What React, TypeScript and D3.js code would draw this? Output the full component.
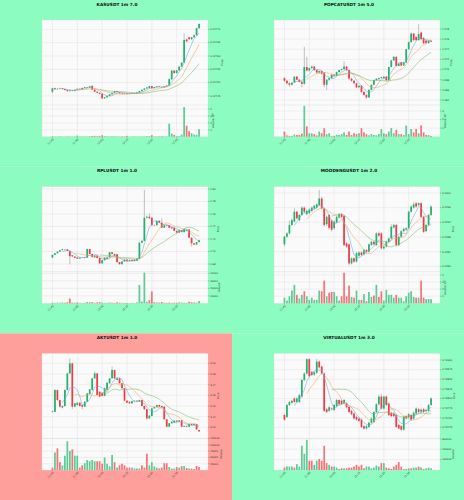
import React from "react";
import * as d3 from "d3";

// ---------- DATA: [open, high, low, close, volume] per 1m candle ----------
const kasCandles: number[][] = [
  [0.127466,0.127481,0.127460,0.127479,50000],[0.127479,0.127481,0.127473,0.127475,30000],[0.127475,0.127479,0.127473,0.127477,40000],[0.127477,0.127481,0.127475,0.127479,60000],[0.127479,0.127480,0.127474,0.127476,30000],
  [0.127476,0.127477,0.127470,0.127472,20000],[0.127472,0.127474,0.127466,0.127468,50000],[0.127468,0.127472,0.127466,0.127471,40000],[0.127471,0.127472,0.127467,0.127469,30000],[0.127469,0.127474,0.127468,0.127473,50000],
  [0.127473,0.127478,0.127472,0.127477,150000],[0.127477,0.127478,0.127473,0.127475,40000],[0.127475,0.127481,0.127474,0.127480,50000],[0.127480,0.127484,0.127479,0.127483,60000],[0.127483,0.127484,0.127479,0.127481,30000],
  [0.127481,0.127488,0.127480,0.127486,80000],[0.127488,0.127490,0.127472,0.127474,100000],[0.127474,0.127475,0.127464,0.127466,120000],[0.127466,0.127467,0.127460,0.127462,80000],[0.127462,0.127463,0.127456,0.127458,120000],
  [0.127458,0.127459,0.127438,0.127441,200000],[0.127441,0.127446,0.127439,0.127445,100000],[0.127445,0.127451,0.127444,0.127450,60000],[0.127450,0.127457,0.127449,0.127456,50000],[0.127456,0.127463,0.127455,0.127462,80000],
  [0.127462,0.127469,0.127461,0.127468,60000],[0.127468,0.127469,0.127463,0.127464,50000],[0.127464,0.127465,0.127459,0.127460,40000],[0.127460,0.127461,0.127457,0.127458,60000],[0.127458,0.127461,0.127457,0.127460,50000],
  [0.127460,0.127461,0.127456,0.127457,120000],[0.127457,0.127460,0.127456,0.127459,30000],[0.127459,0.127462,0.127458,0.127461,40000],[0.127461,0.127462,0.127458,0.127459,50000],[0.127459,0.127464,0.127458,0.127463,30000],
  [0.127463,0.127469,0.127462,0.127468,40000],[0.127468,0.127474,0.127467,0.127473,50000],[0.127473,0.127479,0.127472,0.127478,60000],[0.127478,0.127483,0.127477,0.127482,80000],[0.127480,0.127488,0.127479,0.127487,100000],
  [0.127487,0.127488,0.127478,0.127479,220000],[0.127479,0.127484,0.127478,0.127483,50000],[0.127483,0.127487,0.127482,0.127486,40000],[0.127486,0.127487,0.127483,0.127484,60000],[0.127484,0.127485,0.127481,0.127482,80000],
  [0.127482,0.127487,0.127481,0.127486,50000],[0.127486,0.127490,0.127485,0.127489,60000],[0.127489,0.127516,0.127488,0.127513,1900000],[0.127513,0.127548,0.127510,0.127545,450000],[0.127545,0.127547,0.127533,0.127536,250000],
  [0.127536,0.127547,0.127534,0.127546,50000],[0.127546,0.127561,0.127545,0.127560,100000],[0.127560,0.127577,0.127559,0.127575,300000],[0.127575,0.127685,0.127573,0.127660,4300000],[0.127662,0.127665,0.127650,0.127655,1600000],
  [0.127670,0.127673,0.127660,0.127663,800000],[0.127663,0.127671,0.127660,0.127670,500000],[0.127670,0.127680,0.127668,0.127678,300000],[0.127678,0.127706,0.127676,0.127704,300000],[0.127704,0.127723,0.127702,0.127720,1100000],
];

const popcatCandles: number[][] = [
  [1.2683,1.2685,1.2675,1.2678,60000],[1.2678,1.2679,1.2670,1.2673,15000],[1.2673,1.2675,1.2666,1.2670,10000],[1.2670,1.2675,1.2668,1.2674,10000],[1.2674,1.2687,1.2673,1.2686,25000],
  [1.2686,1.2687,1.2679,1.2680,20000],[1.2680,1.2681,1.2674,1.2676,20000],[1.2676,1.2677,1.2665,1.2672,35000],[1.2672,1.2745,1.2670,1.2705,360000],[1.2705,1.2725,1.2696,1.2698,120000],
  [1.2698,1.2704,1.2696,1.2703,40000],[1.2703,1.2708,1.2701,1.2706,40000],[1.2706,1.2707,1.2697,1.2699,30000],[1.2699,1.2700,1.2692,1.2694,15000],[1.2694,1.2698,1.2692,1.2697,60000],
  [1.2697,1.2698,1.2690,1.2692,40000],[1.2694,1.2695,1.2665,1.2670,100000],[1.2670,1.2681,1.2660,1.2680,30000],[1.2680,1.2684,1.2678,1.2683,40000],[1.2683,1.2691,1.2682,1.2690,10000],
  [1.2690,1.2691,1.2686,1.2688,10000],[1.2688,1.2696,1.2687,1.2695,20000],[1.2695,1.2700,1.2694,1.2699,20000],[1.2699,1.2702,1.2698,1.2701,30000],[1.2701,1.2716,1.2700,1.2706,50000],
  [1.2706,1.2707,1.2697,1.2699,20000],[1.2699,1.2700,1.2680,1.2682,60000],[1.2682,1.2684,1.2676,1.2678,20000],[1.2678,1.2679,1.2671,1.2673,40000],[1.2673,1.2674,1.2663,1.2665,30000],
  [1.2665,1.2669,1.2663,1.2668,40000],[1.2668,1.2669,1.2654,1.2656,100000],[1.2656,1.2657,1.2648,1.2650,50000],[1.2650,1.2651,1.2642,1.2645,30000],[1.2645,1.2661,1.2644,1.2660,15000],
  [1.2660,1.2671,1.2659,1.2670,30000],[1.2670,1.2680,1.2669,1.2679,20000],[1.2679,1.2683,1.2678,1.2682,15000],[1.2681,1.2684,1.2680,1.2683,30000],[1.2683,1.2686,1.2682,1.2685,90000],
  [1.2683,1.2687,1.2682,1.2686,40000],[1.2686,1.2687,1.2677,1.2679,30000],[1.2679,1.2706,1.2678,1.2705,60000],[1.2705,1.2719,1.2704,1.2718,100000],[1.2718,1.2727,1.2717,1.2725,40000],
  [1.2725,1.2726,1.2705,1.2707,80000],[1.2707,1.2713,1.2706,1.2712,30000],[1.2714,1.2715,1.2706,1.2708,30000],[1.2708,1.2715,1.2707,1.2714,20000],[1.2714,1.2741,1.2713,1.2740,130000],
  [1.2740,1.2755,1.2739,1.2754,30000],[1.2754,1.2773,1.2753,1.2771,90000],[1.2771,1.2772,1.2756,1.2758,50000],[1.2764,1.2766,1.2756,1.2758,90000],[1.2758,1.2790,1.2757,1.2770,40000],
  [1.2773,1.2775,1.2758,1.2760,130000],[1.2762,1.2764,1.2750,1.2752,50000],[1.2757,1.2759,1.2750,1.2752,20000],[1.2752,1.2758,1.2751,1.2757,20000],[1.2757,1.2758,1.2754,1.2755,10000],
];

const rplCandles: number[][] = [
  [1.6902,1.6950,1.6895,1.6945,800],[1.6945,1.6975,1.6940,1.6971,600],[1.6971,1.7002,1.6968,1.6998,900],[1.6998,1.7024,1.6995,1.7020,700],[1.7020,1.7045,1.7018,1.7035,1200],
  [1.7035,1.7040,1.7028,1.7030,800],[1.7035,1.7040,1.7005,1.7010,1500],[1.7010,1.7012,1.6795,1.6925,6500],[1.6940,1.6945,1.6915,1.6920,1000],[1.6920,1.6925,1.6895,1.6900,800],
  [1.6905,1.6908,1.6880,1.6885,1200],[1.6885,1.6903,1.6882,1.6900,600],[1.6900,1.6908,1.6897,1.6905,500],[1.6910,1.6912,1.6897,1.6900,700],[1.6900,1.7045,1.6898,1.7040,1800],
  [1.7040,1.7042,1.6955,1.6960,1400],[1.6960,1.6962,1.6905,1.6910,1600],[1.6905,1.6940,1.6902,1.6935,900],[1.6935,1.6937,1.6890,1.6895,1300],[1.6895,1.6897,1.6800,1.6810,1700],
  [1.6810,1.6865,1.6805,1.6860,900],[1.6860,1.6905,1.6855,1.6900,700],[1.6880,1.6910,1.6878,1.6905,600],[1.6905,1.6992,1.6900,1.6987,1200],[1.6987,1.6990,1.6955,1.6960,800],
  [1.6960,1.6963,1.6930,1.6935,700],[1.6955,1.6958,1.6825,1.6830,1500],[1.6830,1.6833,1.6790,1.6795,900],[1.6795,1.6845,1.6792,1.6840,600],[1.6840,1.6875,1.6835,1.6870,700],
  [1.6870,1.6873,1.6845,1.6850,500],[1.6850,1.6870,1.6847,1.6865,400],[1.6865,1.6868,1.6840,1.6845,600],[1.6845,1.6875,1.6842,1.6870,500],[1.6850,1.6890,1.6848,1.6885,1300],
  [1.6885,1.7150,1.6880,1.7140,24500],[1.7140,1.7180,1.7135,1.7170,2500],[1.7170,1.7984,1.7165,1.7540,41000],[1.7540,1.7575,1.7530,1.7555,2000],[1.7555,1.7611,1.7525,1.7530,4200],
  [1.7540,1.7545,1.7415,1.7420,16000],[1.7420,1.7430,1.7405,1.7415,1500],[1.7420,1.7495,1.7415,1.7490,1200],[1.7490,1.7500,1.7455,1.7460,1000],[1.7460,1.7530,1.7375,1.7380,1800],
  [1.7380,1.7425,1.7375,1.7420,900],[1.7420,1.7425,1.7405,1.7410,700],[1.7420,1.7422,1.7375,1.7380,1100],[1.7390,1.7395,1.7365,1.7370,600],[1.7380,1.7385,1.7325,1.7330,900],
  [1.7330,1.7335,1.7295,1.7300,700],[1.7300,1.7345,1.7297,1.7340,1400],[1.7340,1.7345,1.7305,1.7310,1000],[1.7310,1.7365,1.7305,1.7360,800],[1.7330,1.7355,1.7325,1.7350,700],
  [1.7350,1.7355,1.7215,1.7220,2200],[1.7220,1.7225,1.7080,1.7130,1500],[1.7130,1.7135,1.7105,1.7110,1200],[1.7110,1.7155,1.7105,1.7150,1000],[1.7150,1.7185,1.7145,1.7180,3000],
];

const moodengCandles: number[][] = [
  [0.22860,0.22884,0.22855,0.22881,80000],[0.22881,0.22893,0.22878,0.22890,40000],[0.22890,0.22925,0.22887,0.22913,100000],[0.22913,0.22930,0.22910,0.22926,180000],[0.22922,0.22958,0.22920,0.22949,260000],
  [0.22949,0.22952,0.22928,0.22931,120000],[0.22926,0.22943,0.22922,0.22940,70000],[0.22940,0.22964,0.22937,0.22960,120000],[0.22960,0.22963,0.22945,0.22949,170000],[0.22942,0.22955,0.22939,0.22951,100000],
  [0.22945,0.22958,0.22942,0.22955,50000],[0.22951,0.22963,0.22948,0.22960,80000],[0.22958,0.22968,0.22955,0.22965,50000],[0.22960,0.22972,0.22957,0.22969,50000],[0.22967,0.23008,0.22964,0.22985,180000],
  [0.22985,0.22990,0.22955,0.22958,170000],[0.22958,0.22961,0.22908,0.22913,320000],[0.22915,0.22938,0.22910,0.22935,100000],[0.22940,0.22943,0.22900,0.22905,150000],[0.22925,0.22928,0.22895,0.22900,160000],
  [0.22904,0.22925,0.22900,0.22922,160000],[0.22920,0.22938,0.22917,0.22935,100000],[0.22933,0.22945,0.22930,0.22942,40000],[0.22942,0.22945,0.22932,0.22935,100000],[0.22938,0.22941,0.22855,0.22858,430000],
  [0.22863,0.22866,0.22851,0.22854,100000],[0.22860,0.22863,0.22803,0.22808,250000],[0.22808,0.22825,0.22805,0.22822,90000],[0.22822,0.22825,0.22810,0.22813,80000],[0.22813,0.22840,0.22810,0.22836,180000],
  [0.22829,0.22841,0.22826,0.22838,50000],[0.22838,0.22840,0.22828,0.22831,50000],[0.22833,0.22848,0.22830,0.22845,130000],[0.22845,0.22847,0.22837,0.22840,30000],[0.22840,0.22863,0.22837,0.22860,160000],
  [0.22858,0.22870,0.22855,0.22867,90000],[0.22867,0.22869,0.22857,0.22860,110000],[0.22858,0.22893,0.22855,0.22890,260000],[0.22890,0.22895,0.22881,0.22884,90000],[0.22890,0.22893,0.22846,0.22849,170000],
  [0.22849,0.22857,0.22846,0.22854,40000],[0.22854,0.22870,0.22851,0.22867,190000],[0.22867,0.22879,0.22864,0.22876,120000],[0.22876,0.22915,0.22873,0.22908,120000],[0.22906,0.22916,0.22903,0.22913,80000],
  [0.22913,0.22916,0.22855,0.22858,120000],[0.22858,0.22884,0.22855,0.22881,80000],[0.22881,0.22899,0.22878,0.22896,80000],[0.22896,0.22905,0.22893,0.22902,30000],[0.22900,0.22907,0.22897,0.22904,100000],
  [0.22904,0.22952,0.22901,0.22949,150000],[0.22949,0.22966,0.22946,0.22963,170000],[0.22960,0.22976,0.22957,0.22969,90000],[0.22972,0.22975,0.22960,0.22963,80000],[0.22967,0.22975,0.22964,0.22972,80000],
  [0.22972,0.22975,0.22932,0.22935,320000],[0.22935,0.22938,0.22891,0.22894,80000],[0.22896,0.22916,0.22893,0.22913,60000],[0.22913,0.22943,0.22910,0.22940,60000],[0.22940,0.22966,0.22937,0.22963,60000],
];

const aktCandles: number[][] = [
  [3.1450,3.1455,3.1440,3.1445,9700],[3.1445,3.1660,3.1440,3.1650,69600],[3.1650,3.1655,3.1550,3.1556,86200],[3.1556,3.1560,3.1485,3.1494,31400],[3.1485,3.1505,3.1478,3.1500,18600],
  [3.1500,3.1655,3.1495,3.1650,56900],[3.1650,3.1810,3.1645,3.1806,114300],[3.1806,3.1947,3.1800,3.1900,76000],[3.1900,3.1905,3.1470,3.1494,82400],[3.1494,3.1530,3.1488,3.1525,57000],
  [3.1509,3.1535,3.1505,3.1531,57000],[3.1531,3.1535,3.1495,3.1500,9700],[3.1509,3.1512,3.1470,3.1494,18600],[3.1494,3.1545,3.1490,3.1541,27000],[3.1541,3.1623,3.1538,3.1619,40000],
  [3.1613,3.1660,3.1610,3.1656,35000],[3.1650,3.1763,3.1645,3.1759,40000],[3.1759,3.1825,3.1755,3.1806,35000],[3.1806,3.1810,3.1598,3.1603,35000],[3.1634,3.1638,3.1584,3.1588,35000],
  [3.1625,3.1628,3.1590,3.1595,25000],[3.1595,3.1670,3.1590,3.1666,50000],[3.1650,3.1723,3.1646,3.1719,25000],[3.1713,3.1763,3.1710,3.1759,15000],[3.1759,3.1870,3.1755,3.1838,60000],
  [3.1838,3.1842,3.1755,3.1759,31000],[3.1744,3.1763,3.1740,3.1759,9700],[3.1759,3.1763,3.1709,3.1713,18600],[3.1713,3.1716,3.1662,3.1666,25000],[3.1666,3.1670,3.1546,3.1550,18600],
  [3.1550,3.1553,3.1527,3.1531,9700],[3.1540,3.1545,3.1520,3.1525,9700],[3.1525,3.1549,3.1522,3.1545,9700],[3.1545,3.1553,3.1542,3.1550,6000],[3.1550,3.1553,3.1540,3.1544,6000],
  [3.1544,3.1560,3.1540,3.1556,6000],[3.1556,3.1560,3.1495,3.1500,18600],[3.1500,3.1504,3.1465,3.1470,9700],[3.1470,3.1474,3.1370,3.1384,65000],[3.1384,3.1414,3.1380,3.1410,18600],
  [3.1406,3.1482,3.1402,3.1478,31000],[3.1478,3.1494,3.1474,3.1490,14000],[3.1490,3.1513,3.1486,3.1509,9700],[3.1509,3.1512,3.1490,3.1494,6000],[3.1500,3.1503,3.1484,3.1488,9700],
  [3.1494,3.1497,3.1370,3.1375,27000],[3.1375,3.1378,3.1300,3.1306,27000],[3.1306,3.1342,3.1302,3.1338,12000],[3.1338,3.1357,3.1334,3.1353,6000],[3.1344,3.1367,3.1340,3.1363,6000],
  [3.1363,3.1366,3.1349,3.1353,12000],[3.1353,3.1370,3.1349,3.1366,9700],[3.1366,3.1369,3.1302,3.1306,15000],[3.1306,3.1317,3.1302,3.1313,16000],[3.1313,3.1316,3.1302,3.1306,8000],
  [3.1306,3.1335,3.1302,3.1331,6000],[3.1331,3.1334,3.1318,3.1322,6000],[3.1322,3.1335,3.1318,3.1331,4000],[3.1331,3.1334,3.1277,3.1281,16000],[3.1275,3.1278,3.1258,3.1262,12000],
];

const virtualCandles: number[][] = [
  [0.73757,0.73760,0.73742,0.73745,47000],[0.73752,0.73786,0.73749,0.73783,67000],[0.73783,0.73794,0.73780,0.73791,67000],[0.73789,0.73797,0.73786,0.73794,67000],[0.73800,0.73803,0.73788,0.73791,47000],
  [0.73791,0.73803,0.73788,0.73800,113000],[0.73791,0.73812,0.73788,0.73809,67000],[0.73805,0.73851,0.73802,0.73848,467000],[0.73848,0.73868,0.73845,0.73865,313000],[0.73865,0.73905,0.73862,0.73902,580000],
  [0.73902,0.73905,0.73855,0.73858,180000],[0.73869,0.73872,0.73858,0.73861,180000],[0.73862,0.73871,0.73859,0.73868,100000],[0.73867,0.73903,0.73864,0.73896,180000],[0.73896,0.73899,0.73878,0.73881,213000],
  [0.73883,0.73886,0.73862,0.73865,180000],[0.73865,0.73868,0.73765,0.73768,467000],[0.73772,0.73775,0.73762,0.73765,133000],[0.73768,0.73780,0.73765,0.73777,100000],[0.73774,0.73777,0.73769,0.73772,67000],
  [0.73770,0.73786,0.73767,0.73783,67000],[0.73780,0.73799,0.73777,0.73796,47000],[0.73796,0.73799,0.73782,0.73785,20000],[0.73794,0.73797,0.73783,0.73786,33000],[0.73787,0.73799,0.73784,0.73796,33000],
  [0.73787,0.73790,0.73774,0.73777,33000],[0.73778,0.73781,0.73762,0.73765,47000],[0.73768,0.73771,0.73756,0.73759,47000],[0.73761,0.73764,0.73745,0.73748,67000],[0.73752,0.73755,0.73742,0.73745,100000],
  [0.73748,0.73751,0.73739,0.73742,67000],[0.73745,0.73748,0.73723,0.73726,100000],[0.73728,0.73731,0.73719,0.73722,33000],[0.73722,0.73731,0.73719,0.73728,67000],[0.73726,0.73740,0.73723,0.73737,67000],
  [0.73737,0.73751,0.73734,0.73748,33000],[0.73739,0.73768,0.73736,0.73765,47000],[0.73765,0.73788,0.73762,0.73785,87000],[0.73785,0.73810,0.73782,0.73805,67000],[0.73805,0.73812,0.73771,0.73774,133000],
  [0.73774,0.73808,0.73771,0.73805,133000],[0.73805,0.73808,0.73780,0.73783,47000],[0.73787,0.73790,0.73754,0.73757,33000],[0.73763,0.73766,0.73751,0.73754,20000],[0.73761,0.73764,0.73751,0.73754,67000],
  [0.73757,0.73760,0.73723,0.73726,100000],[0.73731,0.73734,0.73719,0.73722,153000],[0.73728,0.73731,0.73715,0.73719,67000],[0.73719,0.73755,0.73716,0.73752,20000],[0.73754,0.73757,0.73745,0.73748,20000],
  [0.73751,0.73762,0.73748,0.73759,33000],[0.73757,0.73760,0.73742,0.73745,33000],[0.73748,0.73766,0.73745,0.73763,47000],[0.73761,0.73777,0.73758,0.73774,47000],[0.73772,0.73775,0.73762,0.73765,67000],
  [0.73766,0.73774,0.73763,0.73771,47000],[0.73772,0.73775,0.73762,0.73765,20000],[0.73767,0.73773,0.73764,0.73770,33000],[0.73768,0.73786,0.73765,0.73783,47000],[0.73783,0.73803,0.73780,0.73800,33000],
];

const titles = ["KASUSDT 1m 7.0", "POPCATUSDT 1m 5.0", "RPLUSDT 1m 1.0", "MOODENGUSDT 1m 2.0", "AKTUSDT 1m 1.0", "VIRTUALUSDT 1m 3.0"];
const timeLabels = ["11:40", "11:50", "12:00", "12:10", "12:20", "12:30"];
const timeIndex = [0, 10, 20, 30, 40, 50];
const movingAverages = [5, 10, 20];

const kasPriceTicks = [0.12745, 0.1275, 0.12755, 0.1276, 0.12765, 0.1277];
const popcatPriceTicks = [1.264, 1.266, 1.268, 1.27, 1.272, 1.274, 1.276, 1.278];
const rplPriceTicks = [1.68, 1.7, 1.72, 1.74, 1.76, 1.78, 1.8];
const moodengPriceTicks = [0.228, 0.2284, 0.2288, 0.2292, 0.2296, 0.23];
const aktPriceTicks = [3.13, 3.14, 3.15, 3.16, 3.17, 3.18, 3.19];
const virtualPriceTicks = [0.73725, 0.7375, 0.73775, 0.738, 0.73825, 0.7385, 0.73875, 0.739];

const kasVolTicks = [1e6, 2e6, 3e6, 4e6];
const popcatVolTicks = [1e5, 2e5, 3e5];
const rplVolTicks = [10000, 20000, 30000, 40000];
const moodengVolTicks = [1e5, 2e5, 3e5, 4e5];
const aktVolTicks = [25000, 50000, 75000, 100000, 125000];
const virtualVolTicks = [200000, 400000, 600000];

// ---------- LAYOUT / STYLE ----------
const W = 464, H = 500;
const PW = 232, PH = 500 / 3;
const PL = 42, PR = 208, PT = 20, PB = 105, VT = 105, VB = 136.7;
const GREEN_BG = "#8cfcc0", RED_BG = "#ff9f9b";
const UP = "#1fb36e", DOWN = "#f23b45";
const VUP = "#5fcb95", VDOWN = "#f67478";
const WICK = "#7a7a7a";
const MA_COLORS = ["#6aa6d8", "#f5a25a", "#78b86e"];
const FONT = "DejaVu Sans, sans-serif";

type Spec = {
  title: string; candles: number[][]; bg: string;
  pDom: [number, number]; pTicks: number[]; pFmt: string;
  vDom: [number, number]; vTicks: number[]; vDiv: number; vExp: string | null;
};

const specs: Spec[] = [
  { title: titles[0], candles: kasCandles, bg: GREEN_BG, pDom: [0.127416, 0.127735], pTicks: kasPriceTicks, pFmt: ".5f", vDom: [0, 4.6e6], vTicks: kasVolTicks, vDiv: 1e6, vExp: "6" },
  { title: titles[1], candles: popcatCandles, bg: GREEN_BG, pDom: [1.26301, 1.27977], pTicks: popcatPriceTicks, pFmt: ".3f", vDom: [0, 3.7e5], vTicks: popcatVolTicks, vDiv: 1e5, vExp: "5" },
  { title: titles[2], candles: rplCandles, bg: GREEN_BG, pDom: [1.66768, 1.80368], pTicks: rplPriceTicks, pFmt: ".2f", vDom: [0, 42300], vTicks: rplVolTicks, vDiv: 1, vExp: null },
  { title: titles[3], candles: moodengCandles, bg: GREEN_BG, pDom: [0.227856, 0.230172], pTicks: moodengPriceTicks, pFmt: ".4f", vDom: [0, 4.45e5], vTicks: moodengVolTicks, vDiv: 1e5, vExp: "5" },
  { title: titles[4], candles: aktCandles, bg: RED_BG, pDom: [3.11969, 3.19938], pTicks: aktPriceTicks, pFmt: ".2f", vDom: [0, 126000], vTicks: aktVolTicks, vDiv: 1, vExp: null },
  { title: titles[5], candles: virtualCandles, bg: GREEN_BG, pDom: [0.736964, 0.739174], pTicks: virtualPriceTicks, pFmt: ".5f", vDom: [0, 610000], vTicks: virtualVolTicks, vDiv: 1, vExp: null },
];

function Panel({ spec, x0, y0 }: { spec: Spec; x0: number; y0: number }) {
  const xs = d3.scaleLinear().domain([-4.2, 62.6]).range([PL, PR]);
  const ys = d3.scaleLinear().domain(spec.pDom).range([PB, PT]);
  const vs = d3.scaleLinear().domain(spec.vDom).range([VB, VT]);
  const step = xs(1) - xs(0);
  const bw = step * 0.7;
  const closes = spec.candles.map((c) => c[3]);
  const pf = d3.format(spec.pFmt);
  const tickFs = 2.4;
  const pLabelW = d3.max(spec.pTicks.map((t) => pf(t).length))! * tickFs * 0.62;
  const vLabels = spec.vTicks.map((t) => String(Math.round(t / spec.vDiv)));
  const vLabelW = d3.max(vLabels.map((s) => s.length))! * tickFs * 0.62;
  const mavLines = movingAverages.map((w) => {
    const vals = closes.map((_, i) => (i < w - 1 ? null : d3.mean(closes.slice(i - w + 1, i + 1))!));
    const line = d3.line<number | null>()
      .defined((d) => d !== null)
      .x((_, i) => xs(i))
      .y((d) => ys(d as number));
    return line(vals) || "";
  });
  return (
    <g transform={`translate(${x0},${y0})`} fontFamily={FONT}>
      <rect x={0} y={0} width={PW} height={PH} fill={spec.bg} />
      <text x={PW / 2 + 1} y={5.5} textAnchor="middle" fontSize={4.3} fontWeight="bold" fill="#111">{spec.title}</text>
      <rect x={PL} y={PT} width={PR - PL} height={VB - PT} fill="#fafafa" />
      {timeIndex.map((t) => (
        <line key={"gx" + t} x1={xs(t)} x2={xs(t)} y1={PT} y2={VB} stroke="#dadada" strokeWidth={0.35} />
      ))}
      {spec.pTicks.map((t) => (
        <line key={"gy" + t} x1={PL} x2={PR} y1={ys(t)} y2={ys(t)} stroke="#dadada" strokeWidth={0.35} />
      ))}
      {spec.vTicks.map((t) => (
        <line key={"gv" + t} x1={PL} x2={PR} y1={vs(t)} y2={vs(t)} stroke="#dadada" strokeWidth={0.35} />
      ))}
      <line x1={PL} x2={PR} y1={PB} y2={PB} stroke="#d0d0d0" strokeWidth={0.35} />
      <rect x={PL} y={PT} width={PR - PL} height={VB - PT} fill="none" stroke="#d8d8d8" strokeWidth={0.35} />
      {spec.candles.map((c, i) => (
        <rect key={"v" + i} x={xs(i) - bw / 2} y={vs(c[4])} width={bw} height={Math.max(0, VB - vs(c[4]))} fill={c[3] >= c[0] ? VUP : VDOWN} />
      ))}
      {spec.candles.map((c, i) => {
        const up = c[3] >= c[0];
        const top = ys(Math.max(c[0], c[3]));
        const bot = ys(Math.min(c[0], c[3]));
        return (
          <g key={"c" + i}>
            <line x1={xs(i)} x2={xs(i)} y1={ys(c[1])} y2={ys(c[2])} stroke={WICK} strokeWidth={0.45} />
            <rect x={xs(i) - bw / 2} y={top} width={bw} height={Math.max(0.3, bot - top)} fill={up ? UP : DOWN} />
          </g>
        );
      })}
      {mavLines.map((d, k) => (
        <path key={"m" + k} d={d} fill="none" stroke={MA_COLORS[k]} strokeWidth={0.55} />
      ))}
      {spec.pTicks.map((t) => (
        <g key={"pt" + t}>
          <line x1={PR} x2={PR + 1.3} y1={ys(t)} y2={ys(t)} stroke="#444" strokeWidth={0.3} />
          <text x={PR + 2.3} y={ys(t)} dy="0.35em" fontSize={tickFs} fill="#333">{pf(t)}</text>
        </g>
      ))}
      <text transform={`translate(${PR + 2.3 + pLabelW + 2.6},${(PT + PB) / 2}) rotate(-90)`} textAnchor="middle" fontSize={2.6} fill="#333">Price</text>
      {spec.vTicks.map((t, k) => (
        <g key={"vt" + t}>
          <line x1={PR} x2={PR + 1.3} y1={vs(t)} y2={vs(t)} stroke="#444" strokeWidth={0.3} />
          <text x={PR + 2.3} y={vs(t)} dy="0.35em" fontSize={tickFs} fill="#333">{vLabels[k]}</text>
        </g>
      ))}
      <text transform={`translate(${PR + 2.3 + vLabelW + 2.6},${(VT + VB) / 2}) rotate(-90)`} textAnchor="middle" fontSize={2.6} fill="#333">
        {spec.vExp ? "Volume  10" : "Volume"}
        {spec.vExp ? <tspan dy={-0.9} fontSize={1.8}>{spec.vExp}</tspan> : null}
      </text>
      {timeIndex.map((t, k) => (
        <g key={"tx" + t}>
          <line x1={xs(t)} x2={xs(t)} y1={VB} y2={VB + 1.3} stroke="#444" strokeWidth={0.3} />
          <text transform={`translate(${xs(t) + 0.8},${VB + 2.2}) rotate(-45)`} textAnchor="end" dy="0.35em" fontSize={2.6} fill="#333">{timeLabels[k]}</text>
        </g>
      ))}
    </g>
  );
}

export default function App() {
  return (
    <svg width={W} height={H} viewBox={`0 0 ${W} ${H}`} style={{ position: "absolute", left: 0, top: 0, display: "block" }}>
      {specs.map((s, k) => (
        <Panel key={k} spec={s} x0={(k % 2) * PW} y0={Math.floor(k / 2) * PH} />
      ))}
    </svg>
  );
}
